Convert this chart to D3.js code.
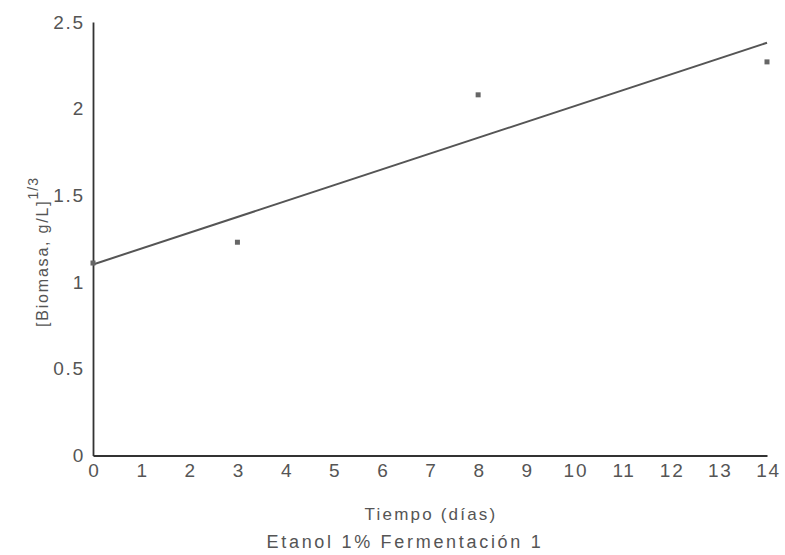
<!DOCTYPE html>
<html>
<head>
<meta charset="utf-8">
<script src="https://cdn.jsdelivr.net/npm/d3@7"></script>
<style>
  body { margin: 0; background: #fff; }
  text { font-family: "Liberation Sans", Arial, sans-serif; fill: #555; }
</style>
</head>
<body>
<svg></svg>
<script>
// data
var dias = [0, 3, 8, 14];
var biomasa = [1.11, 1.23, 2.08, 2.27];
var xTicks = [0, 1, 2, 3, 4, 5, 6, 7, 8, 9, 10, 11, 12, 13, 14];
var yTicks = [0, 0.5, 1, 1.5, 2, 2.5];

var width = 785, height = 555;
var svg = d3.select('svg').attr('width', width).attr('height', height);

var x = d3.scaleLinear().domain([0, 14]).range([93, 767]);
var y = d3.scaleLinear().domain([0, 2.5]).range([455.5, 22]);

// least squares fit line
var mx = d3.mean(dias), my = d3.mean(biomasa);
var sxy = d3.sum(dias, function(d, i) { return (d - mx) * (biomasa[i] - my); });
var sxx = d3.sum(dias, function(d) { return (d - mx) * (d - mx); });
var slope = sxy / sxx, icpt = my - slope * mx;

// axes
var xAxis = svg.append('g')
	.attr('transform', 'translate(0,' + y(0) + ')')
	.call(d3.axisBottom(x).tickValues(xTicks).tickSize(0).tickPadding(8).tickFormat(d3.format('')));
var yAxis = svg.append('g')
	.attr('transform', 'translate(' + x(0) + ',0)')
	.call(d3.axisLeft(y).tickValues(yTicks).tickSize(0).tickPadding(8).tickFormat(d3.format('')));

[xAxis, yAxis].forEach(function(a) {
	a.select('.domain').attr('stroke', '#333').attr('stroke-width', 1.8);
	a.selectAll('text').attr('font-size', 19).attr('fill', '#555')
		.style('font-family', '"Liberation Sans", Arial, sans-serif').attr('letter-spacing', 1.8);
});
xAxis.selectAll('text').attr('dx', 1);

// regression line
svg.append('line')
	.attr('x1', x(0)).attr('y1', y(icpt))
	.attr('x2', x(14)).attr('y2', y(icpt + slope * 14))
	.attr('stroke', '#555').attr('stroke-width', 2);

// points
svg.append('g').selectAll('rect')
	.data(dias)
	.enter()
	.append('rect')
	.attr('x', function(d) { return x(d) - 2.5; })
	.attr('y', function(d, i) { return y(biomasa[i]) - 2.5; })
	.attr('width', 5).attr('height', 5)
	.attr('fill', '#666');

// titles
svg.append('text')
	.attr('x', 431).attr('y', 520)
	.attr('text-anchor', 'middle').attr('font-size', 17).attr('letter-spacing', 2.2)
	.text('Tiempo (días)');

svg.append('text')
	.attr('x', 405).attr('y', 548)
	.attr('text-anchor', 'middle').attr('font-size', 18).attr('letter-spacing', 2.7)
	.text('Etanol 1% Fermentación 1');

var yt = svg.append('text')
	.attr('transform', 'translate(48,327) rotate(-90)')
	.attr('font-size', 16).attr('letter-spacing', 1.8)
	.attr('text-anchor', 'start');
yt.append('tspan').text('[Biomasa,  g/L]');
yt.append('tspan').attr('dy', -10).attr('font-size', 14).attr('letter-spacing', 1).text('1/3');
</script>
</body>
</html>
